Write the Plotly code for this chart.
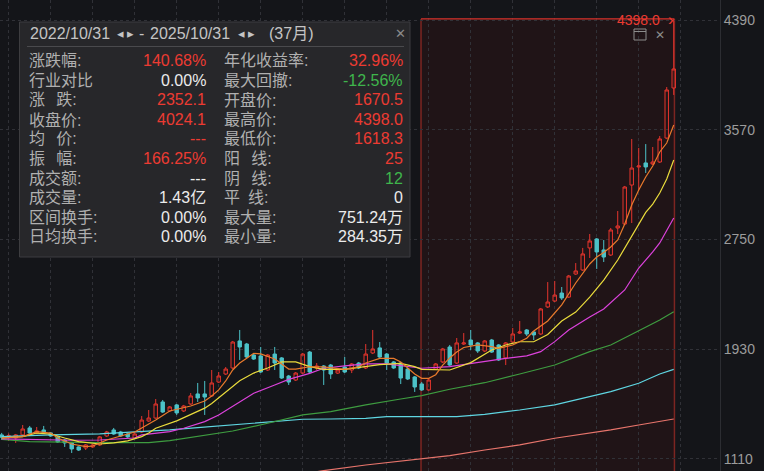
import plotly.graph_objects as go

# monthly candles, index 0 = 2017/10 ... 96 = 2025/10
opens = [1290, 1270, 1267, 1290, 1342, 1305, 1327, 1305, 1275, 1252,
         1230, 1200, 1192, 1200, 1215, 1282, 1327, 1312, 1297, 1267,
         1312, 1394, 1416, 1536, 1469, 1514, 1469, 1521, 1596, 1596,
         1581, 1685, 1745, 1790, 1992, 1969, 1887, 1880, 1775, 1894,
         1865, 1730, 1700, 1752, 1909, 1790, 1805, 1812, 1752, 1797,
         1775, 1827, 1790, 1902, 1940, 1894, 1835, 1827, 1782, 1723,
         1670.5, 1626, 1782, 1835, 1947, 1827, 1969, 1999, 1977, 1917,
         1999, 1962, 1865, 1984, 2051, 2074, 2059, 2044, 2246, 2290,
         2350, 2320, 2492, 2522, 2687, 2754, 2672, 2634, 2836, 2866,
         3157, 3292, 3322, 3314, 3329, 3508, 3882]
highs = [1305, 1300, 1297, 1364, 1357, 1349, 1357, 1310, 1282, 1258,
         1237, 1205, 1222, 1222, 1282, 1320, 1342, 1320, 1305, 1305,
         1431, 1476, 1558, 1551, 1506, 1521, 1514, 1603, 1678, 1693,
         1775, 1760, 1797, 1992, 2074, 1977, 1894, 1947, 1894, 1947,
         1872, 1738, 1760, 1902, 1917, 1827, 1812, 1820, 1782, 1872,
         1827, 1835, 1969, 2074, 1984, 1902, 1842, 1835, 1790, 1730,
         1685, 1715, 1827, 1940, 1962, 2014, 2051, 2074, 1984, 1999,
         2007, 1969, 1984, 2089, 2141, 2081, 2066, 2238, 2432, 2440,
         2395, 2485, 2574, 2687, 2791, 2761, 2746, 2836, 2963, 3150,
         3501, 3434, 3463, 3441, 3523, 3889, 4398.0]
lows = [1252, 1245, 1230, 1282, 1297, 1297, 1297, 1275, 1230, 1200,
        1155, 1170, 1177, 1192, 1207, 1275, 1290, 1275, 1267, 1260,
        1305, 1387, 1410, 1454, 1461, 1439, 1461, 1514, 1536, 1439,
        1573, 1678, 1738, 1782, 1850, 1865, 1850, 1752, 1768, 1775,
        1708, 1663, 1693, 1745, 1752, 1775, 1663, 1708, 1745, 1752,
        1752, 1782, 1782, 1894, 1865, 1775, 1782, 1670, 1700, 1611,
        1618.3, 1620, 1775, 1827, 1805, 1820, 1962, 1924, 1902, 1909,
        1902, 1842, 1812, 1977, 2044, 2029, 1999, 2037, 2238, 2283,
        2298, 2313, 2485, 2515, 2612, 2530, 2582, 2627, 2791, 2858,
        2873, 3120, 3247, 3307, 3322, 3500, 3830]
closes = [1273, 1285, 1290, 1334, 1304, 1320, 1305, 1282, 1237, 1230,
          1185, 1177, 1215, 1215, 1275, 1312, 1297, 1282, 1275, 1297,
          1401, 1416, 1521, 1461, 1499, 1454, 1506, 1581, 1566, 1573,
          1678, 1730, 1782, 1984, 1947, 1872, 1857, 1760, 1887, 1827,
          1715, 1685, 1752, 1894, 1760, 1805, 1775, 1745, 1775, 1760,
          1820, 1790, 1894, 1932, 1872, 1827, 1790, 1715, 1708, 1648,
          1626, 1700, 1820, 1932, 1812, 1977, 1977, 1962, 1917, 1992,
          1909, 1850, 1977, 2044, 2059, 2044, 2037, 2231, 2283, 2335,
          2313, 2477, 2515, 2642, 2739, 2657, 2619, 2821, 2851, 3142,
          3284, 3299, 3292, 3329, 3501, 3867, 4024.1]
idx = list(range(len(closes)))

# moving average lines (candle index, value)
ma5_x = [0, 3, 5, 7, 8, 10, 12, 13, 15, 17, 19, 20, 21, 22, 24, 26, 27, 29, 30, 31,
         32, 33, 34, 35, 36, 37, 39, 40, 41, 42, 44, 46, 49, 51, 52, 54, 56, 57, 58, 59,
         60, 61, 62, 63, 64, 65, 66, 68, 70, 71, 73, 75, 76, 78, 80, 82, 84, 85, 86, 87,
         88, 89, 90, 91, 92, 93, 94, 95, 96]
ma5_y = [1267, 1277, 1314, 1304, 1267, 1222, 1202, 1207, 1252, 1282, 1312, 1342, 1372, 1401, 1469, 1495, 1506, 1543, 1581, 1626,
         1693, 1775, 1827, 1862, 1900, 1895, 1857, 1820, 1782, 1782, 1799, 1799, 1780, 1799, 1827, 1862, 1862, 1835, 1790, 1745,
         1713, 1713, 1740, 1812, 1865, 1909, 1943, 1962, 1949, 1937, 1962, 2012, 2066, 2141, 2261, 2425, 2567, 2619, 2653, 2694,
         2746, 2866, 3008, 3120, 3217, 3299, 3404, 3471, 3606]
ma10_x = [0, 3, 5, 7, 9, 11, 14, 16, 18, 20, 21, 22, 25, 27, 29, 30, 32, 34, 36, 38,
          40, 42, 44, 46, 49, 52, 54, 57, 59, 60, 62, 64, 67, 70, 72, 74, 76, 78, 80, 82,
          84, 86, 88, 89, 90, 91, 92, 93, 94, 95, 96]
ma10_y = [1267, 1277, 1304, 1297, 1267, 1240, 1222, 1230, 1245, 1277, 1304, 1340, 1395, 1445, 1490, 1525, 1610, 1695, 1752, 1790,
          1835, 1835, 1800, 1780, 1780, 1800, 1815, 1825, 1800, 1780, 1777, 1775, 1830, 1924, 1962, 1986, 1986, 2040, 2141, 2208,
          2320, 2447, 2597, 2687, 2776, 2858, 2952, 3015, 3097, 3202, 3344]
ma20_x = [0, 10, 14, 19, 20, 24, 26, 29, 31, 34, 36, 39, 41, 44, 46, 49, 52, 55, 57, 60,
          64, 68, 72, 75, 77, 79, 81, 84, 86, 89, 91, 93, 94, 96]
ma20_y = [1260, 1250, 1252, 1267, 1290, 1314, 1340, 1389, 1439, 1539, 1601, 1663, 1705, 1750, 1788, 1805, 1820, 1820, 1805, 1788,
          1800, 1832, 1862, 1880, 1912, 1987, 2074, 2171, 2231, 2373, 2537, 2657, 2724, 2911]
ma30_x = [0, 4, 14, 21, 24, 28, 33, 38, 43, 47, 52, 57, 60, 64, 69, 74, 79, 84, 87, 91, 94, 96]
ma30_y = [1257, 1240, 1232, 1232, 1247, 1277, 1319, 1377, 1439, 1464, 1514, 1558, 1583, 1631, 1680, 1745, 1812, 1912, 1962, 2068, 2148, 2210]
ma60_x = [0, 7, 14, 20, 24, 28, 33, 38, 43, 47, 52, 55, 65, 69, 74, 79, 84, 87, 91, 94, 96]
ma60_y = [1277, 1290, 1297, 1314, 1327, 1344, 1364, 1384, 1407, 1409, 1414, 1426, 1426, 1444, 1476, 1514, 1576, 1613, 1676, 1745, 1780]
ma120_x = [40, 46, 52, 57, 60, 64, 69, 74, 79, 84, 87, 91, 94, 96]
ma120_y = [975, 1023, 1065, 1095, 1108, 1135, 1177, 1215, 1265, 1302, 1327, 1364, 1389, 1409]

y_ticks = [1110, 1930, 2750, 3570, 4390]
grid_x = list(range(1, 98, 6))

start_date = "2022/10/31"
end_date = "2025/10/31"
span_text = "(37月)"
left_labels = ["涨跌幅:", "行业对比", "涨\u2002\u2009跌:", "收盘价:", "均\u2002\u2009价:",
               "振\u2002\u2009幅:", "成交额:", "成交量:", "区间换手:", "日均换手:"]
left_values = ["140.68%", "0.00%", "2352.1", "4024.1", "---",
               "166.25%", "---", "1.43亿", "0.00%", "0.00%"]
right_labels = ["年化收益率:", "最大回撤:", "开盘价:", "最高价:", "最低价:",
                "阳\u2002\u2009线:", "阴\u2002\u2009线:", "平\u2002线:", "最大量:", "最小量:"]
right_values = ["32.96%", "-12.56%", "1670.5", "4398.0", "1618.3",
                "25", "12", "0", "751.24万", "284.35万"]

RED = "#ec3b32"
GREEN = "#3fb54c"
WHITE = "#ececec"
GREY = "#b0b0b0"
left_colors = [RED, WHITE, RED, RED, RED, RED, WHITE, WHITE, WHITE, WHITE]
right_colors = [RED, GREEN, RED, RED, RED, RED, GREEN, WHITE, WHITE, WHITE]

FONT = "Liberation Sans, Noto Sans CJK SC, sans-serif"
BG = "#141519"


def px(x):
    return x / 720


def py(y):
    return 1 - y / 471


fig = go.Figure()

fig.add_trace(go.Candlestick(
    x=idx, open=opens, high=highs, low=lows, close=closes,
    increasing=dict(line=dict(color="#e5352d", width=1), fillcolor="rgba(0,0,0,0)"),
    decreasing=dict(line=dict(color="#4cc2c8", width=1), fillcolor="#4cc2c8"),
    whiskerwidth=0, showlegend=False, hoverinfo="skip"))

for xs, ys, col in [(ma120_x, ma120_y, "#e8756c"), (ma60_x, ma60_y, "#5fd6e2"),
                    (ma30_x, ma30_y, "#3e9c40"), (ma20_x, ma20_y, "#dc42dc"),
                    (ma10_x, ma10_y, "#eadc3c"), (ma5_x, ma5_y, "#e97a2c")]:
    fig.add_trace(go.Scatter(x=xs, y=ys, mode="lines", line=dict(color=col, width=1.2),
                             showlegend=False, hoverinfo="skip"))

shapes = [
    # selected range
    dict(type="rect", xref="x", yref="y", x0=59.9, x1=96.1, y0=900, y1=4398.0,
         fillcolor="rgba(150,20,10,0.10)", line=dict(width=0), layer="below"),
    dict(type="line", xref="x", yref="y", x0=59.9, x1=59.9, y0=900, y1=4398.0,
         line=dict(color="#7d2521", width=1.5), layer="below"),
    dict(type="line", xref="x", yref="y", x0=96.1, x1=96.1, y0=900, y1=4398.0,
         line=dict(color="#7d2521", width=1.5), layer="below"),
    dict(type="line", xref="x", yref="y", x0=59.9, x1=96.1, y0=4398.0, y1=4398.0,
         line=dict(color="#d8322b", width=1.3)),
    # small window / close icons
    dict(type="rect", xref="paper", yref="paper", x0=px(634), x1=px(646), y0=py(40), y1=py(29),
         line=dict(color="#8c8c8c", width=1)),
    dict(type="line", xref="paper", yref="paper", x0=px(634), x1=px(646), y0=py(31.5), y1=py(31.5),
         line=dict(color="#8c8c8c", width=1)),
    # stats panel
    dict(type="rect", xref="paper", yref="paper", x0=px(19.5), x1=px(410), y0=py(257), y1=py(22),
         fillcolor="#27272a", line=dict(color="#3d3d40", width=1), layer="above"),
    dict(type="line", xref="paper", yref="paper", x0=px(27), x1=px(404), y0=py(46.5), y1=py(46.5),
         line=dict(color="#4a4a4d", width=1), layer="above"),
]

HDR = "#c4c4c4"
annotations = [
    dict(x=px(28), y=py(34), text=start_date, xanchor="left", font=dict(size=16, color=HDR)),
    dict(x=px(115), y=py(34), text="◂\u2009▸", xanchor="left", font=dict(size=13, color=HDR)),
    dict(x=px(137), y=py(34), text="-", xanchor="left", font=dict(size=16, color=HDR)),
    dict(x=px(148), y=py(34), text=end_date, xanchor="left", font=dict(size=16, color=HDR)),
    dict(x=px(236), y=py(34), text="◂\u2009▸", xanchor="left", font=dict(size=13, color=HDR)),
    dict(x=px(267), y=py(34), text=span_text, xanchor="left", font=dict(size=16, color=HDR)),
    dict(x=px(400), y=py(34), text="✕", xanchor="center", font=dict(size=13, color="#8a8a8a")),
    dict(x=px(662), y=py(20), text="4398.0", xanchor="right", font=dict(size=14, color=RED)),
    dict(x=px(671), y=py(20), text="›", xanchor="center", font=dict(size=17, color=RED)),
    dict(x=px(660), y=py(35), text="✕", xanchor="center", font=dict(size=12, color="#8c8c8c")),
]
for k in range(len(left_labels)):
    yy = py(61 + k * 19.5)
    annotations.append(dict(x=px(27), y=yy, text=left_labels[k], xanchor="left",
                            font=dict(size=16, color=GREY)))
    annotations.append(dict(x=px(208), y=yy, text=left_values[k], xanchor="right",
                            font=dict(size=16, color=left_colors[k])))
    annotations.append(dict(x=px(222), y=yy, text=right_labels[k], xanchor="left",
                            font=dict(size=16, color=GREY)))
    annotations.append(dict(x=px(405), y=yy, text=right_values[k], xanchor="right",
                            font=dict(size=16, color=right_colors[k])))
for a in annotations:
    a.update(xref="paper", yref="paper", yanchor="middle", showarrow=False)

fig.update_layout(
    width=764, height=471, autosize=False,
    margin=dict(l=0, r=44, t=0, b=0),
    paper_bgcolor=BG, plot_bgcolor=BG,
    font=dict(family=FONT, color=GREY),
    showlegend=False, hovermode=False,
    shapes=shapes, annotations=annotations,
    xaxis=dict(range=[-0.243, 102.61], tickvals=grid_x, showticklabels=False,
               showgrid=True, gridcolor="#303137", griddash="dot", zeroline=False,
               rangeslider=dict(visible=False), fixedrange=True),
    yaxis=dict(range=[1020.3, 4539.4], side="right", tickvals=y_ticks,
               tickfont=dict(size=14, color="#9c9c9c"), showgrid=True,
               gridcolor="#303137", griddash="dot", zeroline=False,
               showline=True, linecolor="#2c2d32", linewidth=1, ticks=""),
)

# drop the default page margin so the chart sits at the window's corner
fig.write_html("out.html", config={"displayModeBar": False},
               post_script="document.body.style.margin='0';document.body.style.background='#141519';")
